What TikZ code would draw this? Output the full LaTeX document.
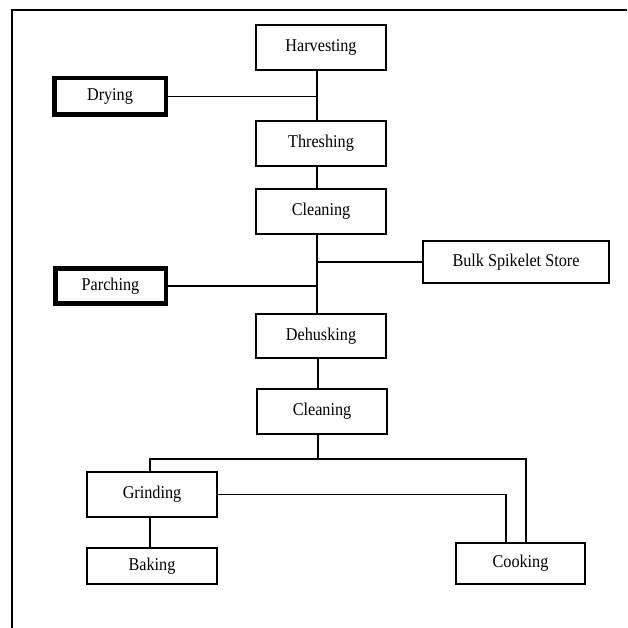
\documentclass[tikz,border=0pt]{standalone}
\usepackage{fontspec}
\setmainfont{Liberation Serif}[FakeStretch=0.9]
\begin{document}
\begin{tikzpicture}[x=1pt,y=-1pt,
  line width=1.2pt,
  stage/.style={draw, rectangle, inner sep=0pt, minimum width=130pt,
    minimum height=45pt, font=\fontsize{18}{21}\selectfont, line width=1.3pt},
  keystage/.style={stage, line width=4.5pt},
  link/.style={draw, line width=1.2pt}]
\useasboundingbox (0,0) rectangle (627,628);

% outer frame (top and left edges)
\coordinate (fr) at (12,628);
\coordinate (ft) at (12,10);
\coordinate (fe) at (627,10);
\draw[line width=1.3pt] (fr) -- (ft) -- (fe);

% stages
\node[stage] (harv) at (321,47.5) {Harvesting};
\node[keystage, minimum width=111.5pt, minimum height=36.5pt] (dry) at (110,96.5) {Drying};
\node[stage] (thr) at (321,143.5) {Threshing};
\node[stage] (cl1) at (321,211.5) {Cleaning};
\node[stage, minimum width=186pt, minimum height=42pt] (bulk) at (516,262) {Bulk Spikelet Store};
\node[keystage, minimum width=110.5pt, minimum height=35pt] (par) at (110.5,286) {Parching};
\node[stage, minimum height=44pt] (deh) at (321,336) {Dehusking};
\node[stage] (cl2) at (322,411.5) {Cleaning};
\node[stage] (grind) at (152,494.5) {Grinding};
\node[stage, minimum height=36pt] (bake) at (152,566) {Baking};
\node[stage, minimum width=129pt, minimum height=41pt] (cook) at (520.5,563.5) {Cooking};

% main spine
\coordinate (sp) at (317,0);
\coordinate (sp2) at (318,0);
\coordinate (bus) at (0,459);
\coordinate (gx) at (150,0);
\coordinate (ox) at (526,0);
\coordinate (ix) at (506,0);

\draw[link] (harv.south -| sp) -- (thr.north -| sp);
\draw[link] (dry.east) -- (dry.east -| sp);
\draw[link] (thr.south -| sp) -- (cl1.north -| sp);
\draw[link] (cl1.south -| sp) -- (deh.north -| sp);
\draw[link] (bulk.west) -- (bulk.west -| sp);
\draw[link] (par.east) -- (par.east -| sp);
\draw[link] (deh.south -| sp2) -- (cl2.north -| sp2);

% distribution after second cleaning
\draw[link] (cl2.south -| sp2) -- (bus -| sp2);
\draw[link] (grind.north -| gx) -- (bus -| gx) -- (bus -| ox) -- (cook.north -| ox);
\draw[link] (grind.south -| gx) -- (bake.north -| gx);
\draw[link] (grind.east) -- (grind.east -| ix) -- (cook.north -| ix);
\end{tikzpicture}
\end{document}
